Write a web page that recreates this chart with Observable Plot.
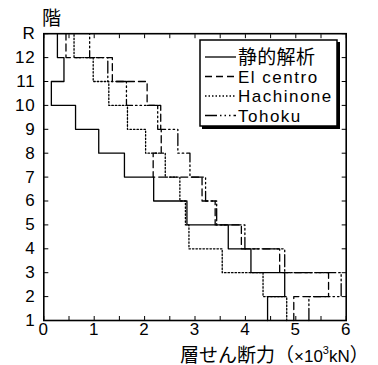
<!DOCTYPE html>
<html><head><meta charset="utf-8">
<script src="https://cdn.jsdelivr.net/npm/d3@7"></script>
<script src="https://cdn.jsdelivr.net/npm/@observablehq/plot@0.6"></script>
<style>body{margin:0;background:#fff} svg{display:block}</style>
</head><body><div id="chart"></div>
<script>
// Floor levels (1 .. R) and their labels
const levels = [1,2,3,4,5,6,7,8,9,10,11,12,13];
const levelLabels = ["1","2","3","4","5","6","7","8","9","10","11","12","R"];
// Story shear (×10^3 kN) for stories 1..12
const seriesNames = ["静的解析","El centro","Hachinone","Tohoku"];
const staticShear   = [4.44,4.78,4.11,3.66,2.84,2.18,1.60,1.09,0.63,0.15,0.40,0.27];
const elCentroShear = [4.96,5.65,4.68,3.92,3.40,3.14,2.17,2.33,2.32,2.05,1.36,0.44];
const hachinoneShear= [4.82,4.35,3.54,2.88,2.81,2.70,2.41,2.02,1.66,1.29,0.98,0.60];
const tohokuShear   = [5.26,5.90,4.78,3.99,3.43,3.21,2.90,2.66,2.26,1.64,1.27,0.91];
const xTicks = [0,1,2,3,4,5,6];
const xMinorTicks = [0,0.5,1,1.5,2,2.5,3,3.5,4,4.5,5,5.5,6];
const dashes = [null,"7,4","1.5,2","12,3,1.5,3,1.5,3,1.5,3"];

const allSeries = [staticShear, elCentroShear, hachinoneShear, tohokuShear];
function stepPoints(values) {
  const pts = [];
  values.forEach((q, i) => { pts.push({q, level: levels[i]}); pts.push({q, level: levels[i+1]}); });
  return pts;
}

const plot = Plot.plot({
  width: 378, height: 365,
  marginLeft: 43.3, marginRight: 32.3, marginTop: 33.2, marginBottom: 45,
  style: {fontFamily: "'Liberation Sans', 'Noto Sans CJK JP', sans-serif", fontSize: "17px", letterSpacing: "1px", color: "black", background: "white"},
  x: {domain: [0, 6], axis: null},
  y: {domain: [1, 13], axis: null},
  marks: [
    ...allSeries.map((vals, i) => Plot.line(stepPoints(vals), {x: "q", y: "level", stroke: "black", strokeWidth: 1.3, strokeDasharray: dashes[i] || undefined})),
    Plot.frame({stroke: "black", strokeWidth: 1.6}),
    Plot.axisY(levels, {anchor: "left", tickSize: 0, tickPadding: 8, tickFormat: d => levelLabels[levels.indexOf(d)], label: null}),
    Plot.axisY(levels, {anchor: "left", tickSize: -5, fill: "none", label: null}),
    Plot.axisY(levels, {anchor: "right", tickSize: -5, fill: "none", label: null}),
    Plot.axisX(xTicks, {anchor: "bottom", tickSize: 0, tickPadding: 2.5, label: null}),
    Plot.axisX(xMinorTicks, {anchor: "bottom", tickSize: -4, fill: "none", label: null}),
    Plot.axisX(xMinorTicks, {anchor: "top", tickSize: -4, fill: "none", label: null})
  ]
});
document.getElementById("chart").appendChild(plot);

const svg = d3.select(plot);
// y-axis title
svg.append("text").attr("x", 42).attr("y", 25).attr("text-anchor", "start")
  .style("font-family", "'Noto Sans CJK JP'").style("font-size", "19px").style("letter-spacing", "0")
  .text("階");
// x-axis title
const xl = svg.append("text").attr("x", 180).attr("y", 361.5).attr("text-anchor", "start").style("letter-spacing", "0");
xl.append("tspan").style("font-family", "'Noto Sans CJK JP'").style("font-size", "19px").text("層せん断力（");
xl.append("tspan").style("font-size", "17px").text("×10");
xl.append("tspan").style("font-size", "11px").attr("dy", -8).text("3");
xl.append("tspan").style("font-size", "17px").attr("dy", 8).text("kN");
xl.append("tspan").style("font-family", "'Noto Sans CJK JP'").style("font-size", "19px").text("）");

// legend
const lg = svg.append("g");
lg.append("rect").attr("x", 202).attr("y", 42).attr("width", 138).attr("height", 87).attr("fill", "black");
lg.append("rect").attr("x", 200).attr("y", 40).attr("width", 137).attr("height", 86).attr("fill", "white").attr("stroke", "black").attr("stroke-width", 1.5);
seriesNames.forEach((name, i) => {
  const cy = 57 + i * 19.5;
  lg.append("line").attr("x1", 205).attr("x2", 236).attr("y1", cy).attr("y2", cy)
    .attr("stroke", "black").attr("stroke-width", 1.3).attr("stroke-dasharray", dashes[i]);
  const t = lg.append("text").attr("x", 238).attr("y", cy).attr("dy", "0.36em").attr("text-anchor", "start").text(name);
  if (i === 0) t.style("font-family", "'Noto Sans CJK JP'").style("font-size", "19px").style("letter-spacing", "0.3px");
  else t.style("letter-spacing", "1.5px");
});
</script>
</body></html>
